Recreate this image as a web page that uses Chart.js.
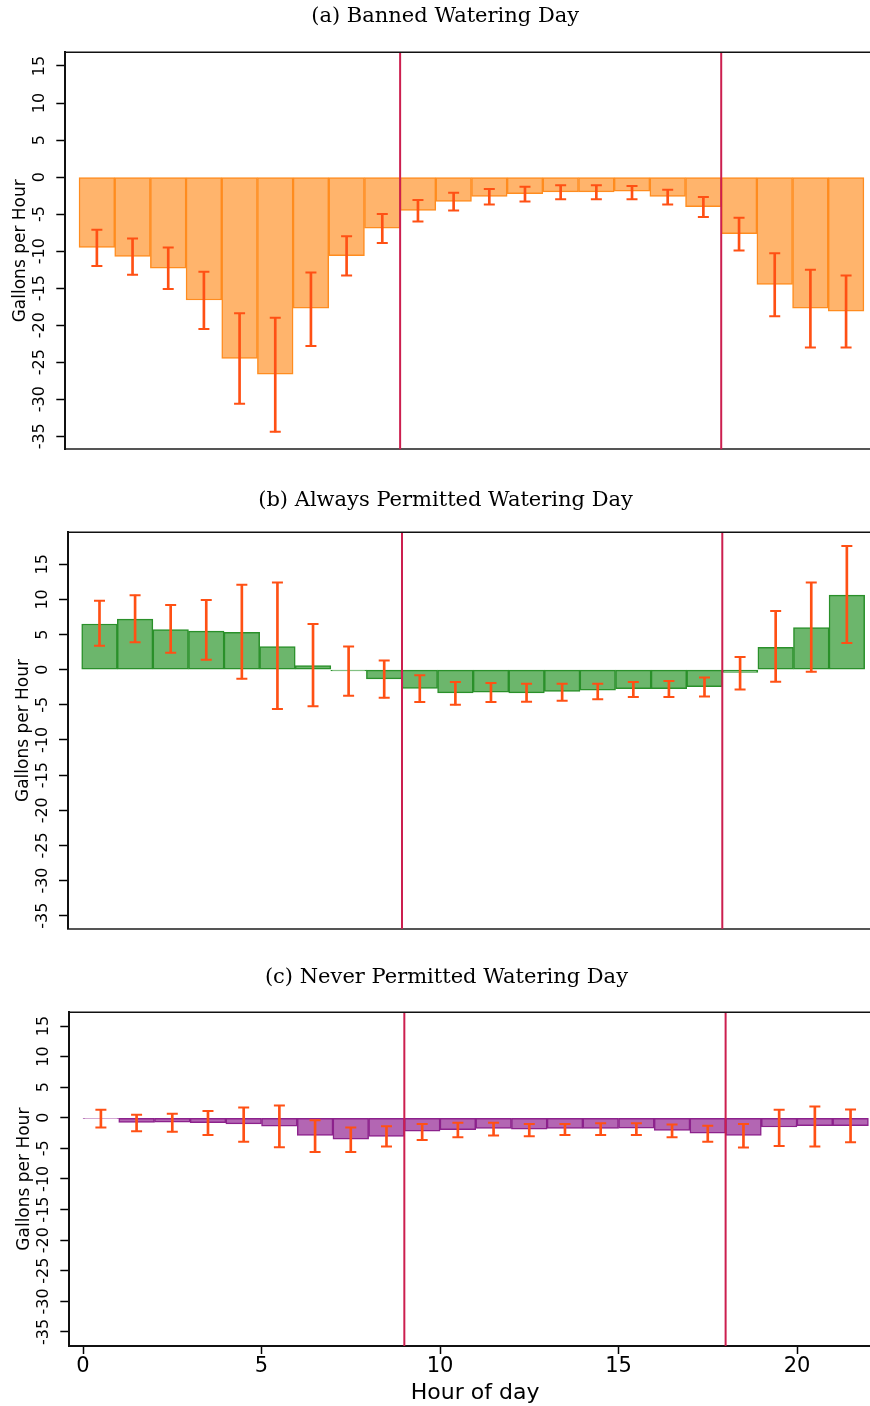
<!DOCTYPE html>
<html>
<head>
<meta charset="utf-8">
<script src="https://cdn.jsdelivr.net/npm/chart.js@4.4.1/dist/chart.umd.min.js"></script>
<style>
  html, body { margin: 0; padding: 0; background: #fff; }
  #page { position: relative; width: 870px; height: 1406px; overflow: hidden; }
  .panel { position: absolute; left: 0; width: 890px; }
</style>
</head>
<body>
<div id="page">
  <div class="panel" style="top:0px;height:470px"><canvas id="bannedChart" width="890" height="470"></canvas></div>
  <div class="panel" style="top:480px;height:470px"><canvas id="alwaysChart" width="890" height="470"></canvas></div>
  <div class="panel" style="top:960px;height:446px"><canvas id="neverChart" width="890" height="446"></canvas></div>
</div>
<script>
(function () {
  "use strict";

  // -------------------------
  // Data
  // -------------------------
  const hourCenters = [0.5, 1.5, 2.5, 3.5, 4.5, 5.5, 6.5, 7.5, 8.5, 9.5, 10.5,
    11.5, 12.5, 13.5, 14.5, 15.5, 16.5, 17.5, 18.5, 19.5, 20.5, 21.5];
  const cutoffHours = [9, 18];
  const yTicks = [-35, -30, -25, -20, -15, -10, -5, 0, 5, 10, 15];
  const xTicks = [0, 5, 10, 15, 20];

  // (a) Banned watering day
  const bannedMean = [-9.5, -10.7, -12.3, -16.6, -24.5, -26.6, -17.7, -10.6, -6.9, -4.5, -3.3,
    -2.6, -2.25, -2.0, -2.0, -1.9, -2.6, -4.0, -7.65, -14.5, -17.7, -18.1];
  const bannedLo = [-12.0, -13.2, -15.1, -20.5, -30.6, -34.4, -22.8, -13.3, -8.9, -6.0, -4.5,
    -3.7, -3.3, -3.0, -3.0, -3.0, -3.7, -5.4, -9.9, -18.8, -23.0, -23.0];
  const bannedHi = [-7.1, -8.3, -9.5, -12.8, -18.4, -19.0, -12.9, -8.0, -5.0, -3.1, -2.1,
    -1.6, -1.3, -1.1, -1.1, -1.2, -1.7, -2.7, -5.5, -10.3, -12.5, -13.3];

  // (b) Always permitted watering day
  const alwaysMean = [6.5, 7.2, 5.7, 5.5, 5.3, 3.3, 0.57, -0.19, -1.3, -2.65, -3.3,
    -3.2, -3.3, -3.1, -2.9, -2.7, -2.7, -2.4, -0.4, 3.2, 6.0, 10.6];
  const alwaysLo = [3.4, 3.9, 2.4, 1.4, -1.3, -5.6, -5.2, -3.7, -4.0, -4.6, -5.0,
    -4.6, -4.55, -4.4, -4.2, -3.9, -3.9, -3.8, -2.8, -1.7, -0.3, 3.8];
  const alwaysHi = [9.8, 10.6, 9.2, 9.9, 12.1, 12.4, 6.5, 3.3, 1.3, -0.8, -1.75,
    -1.9, -2.0, -2.0, -2.0, -1.75, -1.6, -1.1, 1.8, 8.35, 12.4, 17.6];

  // (c) Never permitted watering day
  const neverMean = [-0.1, -0.76, -0.7, -0.8, -1.0, -1.36, -2.9, -3.5, -3.05, -2.2, -1.96,
    -1.74, -1.85, -1.74, -1.74, -1.7, -2.07, -2.5, -2.9, -1.5, -1.3, -1.3];
  const neverLo = [-1.6, -2.2, -2.3, -2.8, -3.9, -4.8, -5.6, -5.6, -4.7, -3.65, -3.2,
    -2.9, -3.0, -2.8, -2.8, -2.8, -3.2, -3.9, -4.85, -4.6, -4.7, -4.0];
  const neverHi = [1.3, 0.5, 0.65, 1.1, 1.7, 2.0, -0.4, -1.6, -1.4, -1.0, -0.8,
    -0.8, -1.0, -1.0, -0.9, -0.9, -1.1, -1.3, -1.0, 1.3, 1.85, 1.36];

  const errColor = "#ff5014";
  const cutoffColor = "#cc1f4f";
  const sansFont = "'DejaVu Sans', Verdana, sans-serif";
  const serifFont = "'DejaVu Serif', 'Liberation Serif', serif";

  // -------------------------
  // Helpers
  // -------------------------
  function meanPoints(mean) {
    return hourCenters.map((x, i) => ({ x: x, y: mean[i] }));
  }

  function whiskerPoints(lo, hi) {
    return hourCenters.map((x, i) => ({ x: x, y: [lo[i], hi[i]] }));
  }

  function capPoints(lo, hi) {
    const pts = [];
    hourCenters.forEach((x, i) => {
      pts.push({ x: x, y: lo[i] });
      pts.push({ x: x, y: hi[i] });
    });
    return pts;
  }

  // cutoff lines + top frame line
  const overlayPlugin = {
    id: "overlay",
    afterDatasetsDraw(chart) {
      const { ctx, chartArea, scales } = chart;
      ctx.save();
      ctx.strokeStyle = cutoffColor;
      ctx.lineWidth = 2;
      cutoffHours.forEach((h) => {
        const px = scales.x.getPixelForValue(h);
        ctx.beginPath();
        ctx.moveTo(px, chartArea.top);
        ctx.lineTo(px, chartArea.bottom);
        ctx.stroke();
      });
      ctx.strokeStyle = "#111";
      ctx.lineWidth = 1.5;
      ctx.beginPath();
      ctx.moveTo(chartArea.left, chartArea.top);
      ctx.lineTo(chartArea.right + 20, chartArea.top);
      ctx.stroke();
      ctx.restore();
    },
  };

  function makePanel(canvasId, p) {
    const el = document.getElementById(canvasId);
    if (!el) return null;
    const ctx = el.getContext("2d");

    return new Chart(ctx, {
      type: "bar",
      data: {
        datasets: [
          {
            type: "bar",
            data: meanPoints(p.mean),
            backgroundColor: p.fill,
            borderColor: p.edge,
            borderWidth: 1.5,
            borderSkipped: false,
            grouped: false,
            barPercentage: 1,
            categoryPercentage: 1,
            order: 3,
          },
          {
            type: "bar",
            data: whiskerPoints(p.lo, p.hi),
            backgroundColor: errColor,
            borderWidth: 0,
            barThickness: 2,
            grouped: false,
            order: 2,
          },
          {
            type: "line",
            data: capPoints(p.lo, p.hi),
            showLine: false,
            pointStyle: "line",
            pointRadius: 5.5,
            pointHoverRadius: 5.5,
            pointBorderWidth: 2,
            pointBorderColor: errColor,
            pointBackgroundColor: errColor,
            order: 1,
          },
        ],
      },
      options: {
        responsive: false,
        animation: false,
        events: [],
        layout: { padding: { top: 0, left: p.padLeft, right: p.padRight, bottom: p.padBottom } },
        plugins: {
          legend: { display: false },
          tooltip: { enabled: false },
          title: {
            display: true,
            text: p.title,
            color: "#000",
            font: { family: serifFont, size: 21, weight: "normal" },
            padding: { top: p.titleTop, bottom: p.titleBottom },
          },
        },
        scales: {
          x: {
            type: "linear",
            min: -0.385,
            max: 22.35,
            offset: false,
            afterBuildTicks: (scale) => {
              scale.ticks = xTicks.map((v) => ({ value: v }));
            },
            afterFit: (scale) => {
              scale.height = p.xAxisHeight;
            },
            grid: {
              display: p.showX,
              offset: false,
              drawOnChartArea: false,
              drawTicks: true,
              tickLength: 8,
              tickWidth: 1.5,
              tickColor: "#000",
              color: "#000",
            },
            border: { display: true, color: p.showX ? "#111" : "#555", width: 2 },
            ticks: {
              display: p.showX,
              color: "#000",
              padding: 0.4,
              maxRotation: 0,
              autoSkip: false,
              font: { family: sansFont, size: 21 },
              callback: (v) => String(v),
            },
            title: {
              display: p.showX,
              text: "Hour of day",
              color: "#000",
              font: { family: sansFont, size: 22 },
              padding: { top: 0, bottom: 0 },
            },
          },
          y: {
            type: "linear",
            position: "left",
            min: p.yMin,
            max: p.yMax,
            afterBuildTicks: (scale) => {
              scale.ticks = yTicks.map((v) => ({ value: v }));
            },
            afterFit: (scale) => {
              scale.width = p.axisX - p.padLeft;
            },
            grid: {
              display: true,
              drawOnChartArea: false,
              drawTicks: true,
              tickLength: 9,
              tickWidth: 1.5,
              tickColor: "#000",
              color: "#000",
            },
            border: { display: true, color: "#111", width: 2 },
            ticks: {
              color: "#000",
              minRotation: 90,
              maxRotation: 90,
              crossAlign: "center",
              padding: 3,
              autoSkip: false,
              font: { family: sansFont, size: 16 },
              callback: (v) => String(v),
            },
            title: {
              display: true,
              text: "Gallons per Hour",
              color: "#000",
              font: { family: sansFont, size: 17 },
              padding: { top: p.yTitlePad, bottom: 0 },
            },
          },
        },
      },
      plugins: [overlayPlugin],
    });
  }

  // -------------------------
  // Panels
  // -------------------------
  makePanel("bannedChart", {
    title: "(a) Banned Watering Day",
    mean: bannedMean, lo: bannedLo, hi: bannedHi,
    fill: "#ffb46c", edge: "#ff8c1f",
    yMin: -36.76, yMax: 16.85,
    axisX: 65.3, padLeft: 14, yTitlePad: -3.2,
    titleTop: 4.1, titleBottom: 23.0,
    padRight: 13.6, padBottom: 20.7,
    showX: false, xAxisHeight: 0,
  });

  makePanel("alwaysChart", {
    title: "(b) Always Permitted Watering Day",
    mean: alwaysMean, lo: alwaysLo, hi: alwaysHi,
    fill: "#6cb66c", edge: "#2a902a",
    yMin: -36.85, yMax: 19.55,
    axisX: 68, padLeft: 14, yTitlePad: -0.9,
    titleTop: 7.9, titleBottom: 19.2,
    padRight: 12.9, padBottom: 21.3,
    showX: false, xAxisHeight: 0,
  });

  makePanel("neverChart", {
    title: "(c) Never Permitted Watering Day",
    mean: neverMean, lo: neverLo, hi: neverHi,
    fill: "#b366b3", edge: "#8c228c",
    yMin: -37.3, yMax: 17.24,
    axisX: 69.3, padLeft: 12, yTitlePad: 2.8,
    titleTop: 4.9, titleBottom: 22.2,
    padRight: 9.1, padBottom: 0,
    showX: true, xAxisHeight: 60,
  });
})();
</script>
</body>
</html>
